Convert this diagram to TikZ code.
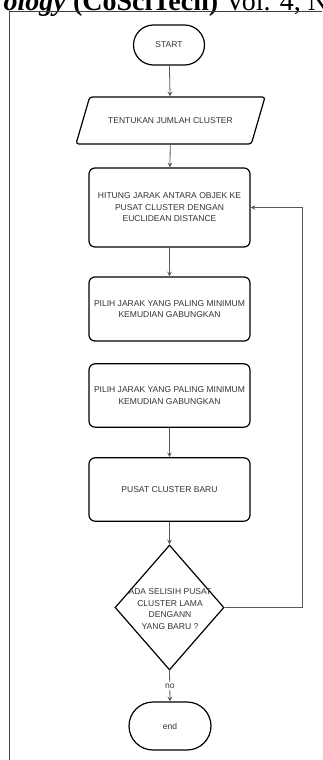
\documentclass[tikz,border=0pt]{standalone}
\usepackage{fontspec}
\setmainfont{Liberation Serif}
\newfontfamily\boxfont{Liberation Sans}
\usetikzlibrary{shapes.geometric}

\begin{document}
\begin{tikzpicture}[x=0.75pt,y=-0.75pt,>=stealth,
  every node/.style={font=\boxfont\fontsize{6.4}{8.6}\selectfont, text=black!80, align=center},
  terminal/.style={draw, line width=0.9pt, minimum width=53.25pt, minimum height=30pt, rounded corners=15pt},
  proses/.style={draw, line width=0.9pt, minimum width=120.75pt, minimum height=47.5pt, rounded corners=4.5pt},
  masukan/.style={trapezium, draw, line width=0.9pt, trapezium left angle=47.5, trapezium right angle=132.5, trapezium stretches body, minimum width=141.75pt, minimum height=35.25pt, rounded corners=2pt},
  keputusan/.style={diamond, draw, line width=0.9pt, minimum width=81.75pt, minimum height=93.75pt, inner sep=0pt},
  garis/.style={draw=black!65, line width=0.6pt}]
\useasboundingbox (0,0) rectangle (322,760);

\node[anchor=base west, font=\fontsize{21}{21}\selectfont, text=black] (kop) at (-1,10) {\textbf{\textit{ology}} \textbf{(CoSciTech)} Vol. 4, N};
\draw[black!75, line width=0.7pt] (9,760) -- (9,11) -- (322,11);

\node[terminal] (start) at (169,45) {START};
\node[masukan] (jumlah) at (170.5,120.5) {TENTUKAN JUMLAH CLUSTER};
\node[proses, minimum height=59.25pt] (hitung) at (169.5,207.5) {HITUNG JARAK ANTARA OBJEK KE\\PUSAT CLUSTER DENGAN\\EUCLIDEAN DISTANCE};
\node[proses, minimum height=48pt] (pilih1) at (169.5,309) {PILIH JARAK YANG PALING MINIMUM\\KEMUDIAN GABUNGKAN};
\node[proses] (pilih2) at (169.5,395.5) {PILIH JARAK YANG PALING MINIMUM\\KEMUDIAN GABUNGKAN};
\node[proses] (baru) at (169.5,489.5) {PUSAT CLUSTER BARU};
\node[keputusan] (cek) at (169.5,607.5) {};
\node (cektext) at (170,609) {ADA SELISIH PUSAT\\CLUSTER LAMA\\DENGANN\\YANG BARU ?};
\node[terminal, minimum width=61.5pt, minimum height=36pt, rounded corners=18pt] (end) at (170,726) {end};

\draw[garis,->] (start) -- (jumlah);
\draw[garis,->] (jumlah) -- (hitung);
\draw[garis,->] (hitung) -- (pilih1);
\draw[garis,->] (pilih2) -- (baru);
\draw[garis,->] (baru) -- (cek);
\draw[garis,->] (cek.east) -- ++(78,0) |- (hitung.east);
\draw[garis,->] (cek.south) -- node[fill=white, inner sep=1pt] {no} (end.north);
\end{tikzpicture}
\end{document}
